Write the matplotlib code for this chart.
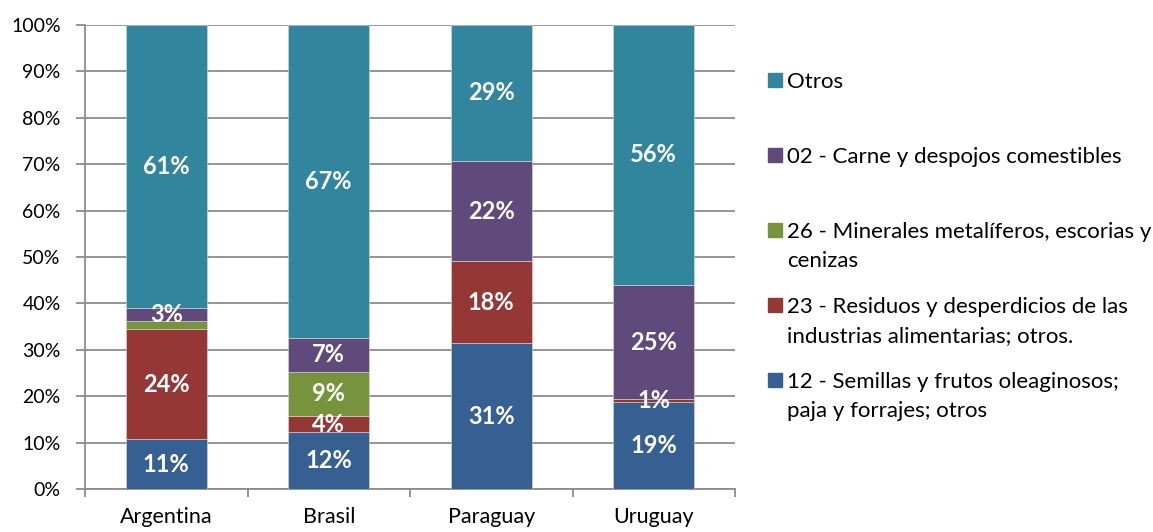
import numpy as np
import matplotlib
matplotlib.use("Agg")
import matplotlib.pyplot as plt
from matplotlib.patches import Rectangle

plt.rcParams['font.family'] = ['Lato', 'DejaVu Sans']

# data (share of exports, %)
paises = ["Argentina", "Brasil", "Paraguay", "Uruguay"]
semillas_12 = [10.7, 12.2, 31.4, 18.7]
residuos_23 = [23.7, 3.6, 17.7, 0.6]
minerales_26 = [1.7, 9.4, 0.0, 0.0]
carne_02 = [2.9, 7.4, 21.6, 24.7]
otros = [61.0, 67.4, 29.3, 56.0]

series = [
    ("12 - Semillas y frutos oleaginosos;\npaja y forrajes; otros", semillas_12, "#376092"),
    ("23 - Residuos y desperdicios de las\nindustrias alimentarias; otros.", residuos_23, "#953735"),
    ("26 - Minerales metalíferos, escorias y\ncenizas", minerales_26, "#77933C"),
    ("02 - Carne y despojos comestibles", carne_02, "#604A7B"),
    ("Otros", otros, "#31859C"),
]
# labels removed in the original
sin_etiqueta = {(2, 0)}

W, H = 1153, 532
fig = plt.figure(figsize=(W / 100, H / 100), dpi=100)
ax = fig.add_axes([85 / W, 1 - 489 / H, (735 - 85) / W, (489 - 25) / H])

x = np.arange(len(paises))
bottom = np.zeros(len(paises))
for si, (name, vals, col) in enumerate(series):
    vals = np.array(vals)
    ax.bar(x, vals, 0.5, bottom=bottom, color=col, edgecolor="#d9d9d9",
           linewidth=0.4, zorder=3)
    for i, v in enumerate(vals):
        if v <= 0 or (si, i) in sin_etiqueta:
            continue
        ax.text(x[i], bottom[i] + v / 2, f"{round(v):.0f}%", ha="center",
                va="center", color="white", fontsize=17, fontweight="bold",
                zorder=4)
    bottom += vals

ax.set_xlim(-0.5, len(paises) - 0.5)
ax.set_ylim(0, 100)
ax.set_yticks(np.arange(0, 101, 10))
ax.set_yticklabels([f"{v}%" for v in range(0, 101, 10)], fontsize=14)
ax.yaxis.grid(True, color="#8c8c8c", linewidth=1.3, zorder=0)
ax.set_axisbelow(True)
ax.set_xticks(x)
ax.set_xticklabels(paises, fontsize=15.5)
ax.set_xticks(np.arange(-0.5, len(paises)), minor=True)
ax.tick_params(axis="x", which="major", length=0, pad=13)
ax.tick_params(axis="x", which="minor", length=6, width=1.3, color="#8c8c8c")
ax.tick_params(axis="y", length=6.5, width=1.3, color="#8c8c8c", pad=11)
for s in ["top", "right"]:
    ax.spines[s].set_visible(False)
for s in ["left", "bottom"]:
    ax.spines[s].set_color("#8c8c8c")
    ax.spines[s].set_linewidth(1.3)

# legend, evenly spaced like the original
for k, (name, vals, col) in enumerate(reversed(series)):
    yc = 80 + 75 * k
    fig.patches.append(Rectangle((768 / W, 1 - (yc + 7) / H), 14 / W, 14 / H,
                                 transform=fig.transFigure, color=col))
    for j, line in enumerate(name.split("\n")):
        fig.text(787 / W, 1 - (yc + 8 + 29 * j) / H, line, fontsize=16,
                 va="baseline", ha="left")

fig.savefig("out.png", dpi=100)
